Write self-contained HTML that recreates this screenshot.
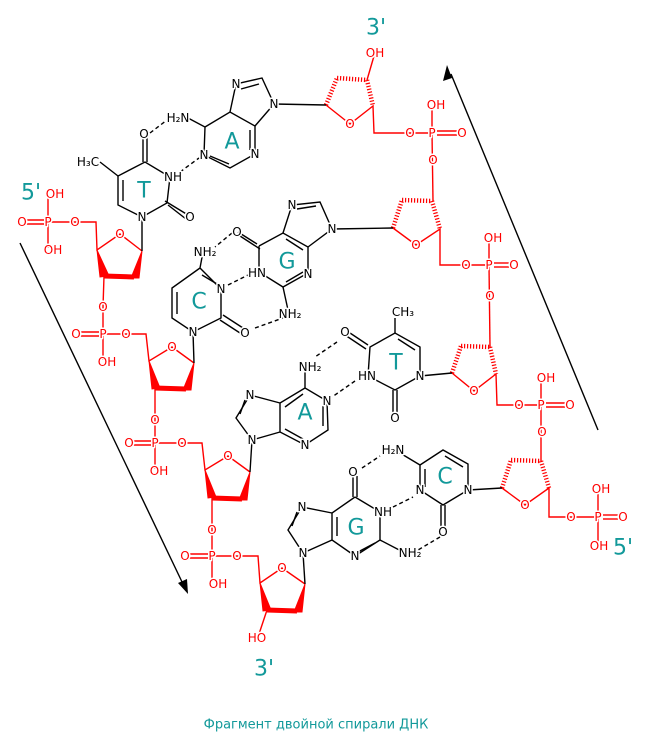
<!DOCTYPE html>
<html><head><meta charset="utf-8"><style>
html,body{margin:0;padding:0;background:#fff}
svg{display:block}
text{font-family:"DejaVu Sans","Liberation Sans",sans-serif;font-size:12px;text-anchor:middle;dominant-baseline:central;paint-order:stroke;stroke:#fff;stroke-width:3px;stroke-linejoin:round}
.k line,.k polyline{stroke:#000;stroke-width:1.4;fill:none}
.k text{fill:#000}
.r line,.r polyline{stroke:#f00;stroke-width:1.4;fill:none}
.r polygon{fill:#f00;stroke:#f00;stroke-width:1}
.r text{fill:#f00}
.h{stroke-dasharray:4 3}
.hs{stroke-width:4.5!important;stroke-dasharray:1.2 1.8}
.t{fill:#12999a!important;stroke:none!important;font-size:22px}
</style></head><body>
<svg width="645" height="748" viewBox="0 0 645 748" xmlns="http://www.w3.org/2000/svg">
<!-- arrows -->
<g stroke="#000" stroke-width="1.4">
<line x1="20" y1="243" x2="183" y2="584"/>
<line x1="598" y1="430" x2="451" y2="74"/>
</g>
<polygon points="188,594 178,583 187,579" fill="#000"/>
<polygon points="447,65 452,78 443,81" fill="#000"/>

<!-- LEFT STRAND -->
<g class="r">
<polyline points="48,222 75,222 96,222 97,250 120,234 142,251"/>
<line x1="48" y1="222" x2="48" y2="196"/><line x1="48" y1="222" x2="48" y2="248"/>
<line x1="26" y1="220" x2="44" y2="220"/><line x1="26" y1="224" x2="44" y2="224"/>
<polygon points="142,251 131,278 139,278"/>
<line x1="134" y1="277" x2="104" y2="276" style="stroke-width:5"/>
<polygon points="97,250 100,277 109,276"/>
<polyline points="104,276 103,307 103,334 126,334 146,334 149,361 172,347 194,363"/>
<line x1="103" y1="334" x2="103" y2="360"/>
<line x1="80" y1="332" x2="99" y2="332"/><line x1="80" y1="336" x2="99" y2="336"/>
<polygon points="194,363 183,390 191,390"/>
<line x1="186" y1="389" x2="155" y2="388" style="stroke-width:5"/>
<polygon points="149,361 152,389 160,388"/>
<polyline points="155,388 155,420 155,443 182,443 202,443 205,470 228,456 250,472"/>
<line x1="155" y1="443" x2="155" y2="469"/>
<line x1="133" y1="441" x2="151" y2="441"/><line x1="133" y1="445" x2="151" y2="445"/>
<polygon points="250,472 239,500 247,500"/>
<line x1="242" y1="499" x2="212" y2="498" style="stroke-width:5"/>
<polygon points="205,470 208,498 216,497"/>
<polyline points="212,498 212,530 212,556 237,556 258,556 260,583 282,568 305,584"/>
<line x1="212" y1="556" x2="212" y2="582"/>
<line x1="189" y1="554" x2="208" y2="554"/><line x1="189" y1="558" x2="208" y2="558"/>
<polygon points="305,584 294,612 302,612"/>
<line x1="297" y1="611" x2="267" y2="610" style="stroke-width:5"/>
<polygon points="260,583 263,611 271,610"/>
<line x1="267" y1="610" x2="259" y2="634"/>
<text x="55" y="194">OH</text><text x="48" y="222">P</text><text x="22" y="222">O</text><text x="75" y="222">O</text><text x="53" y="250">OH</text>
<text x="120" y="234">O</text><text x="103" y="307">O</text>
<text x="103" y="334">P</text><text x="76" y="334">O</text><text x="126" y="334">O</text><text x="107" y="362">OH</text>
<text x="172" y="347">O</text><text x="155" y="420">O</text>
<text x="155" y="443">P</text><text x="129" y="443">O</text><text x="182" y="443">O</text><text x="159" y="471">OH</text>
<text x="228" y="456">O</text><text x="212" y="530">O</text>
<text x="212" y="556">P</text><text x="185" y="556">O</text><text x="237" y="556">O</text><text x="218" y="584">OH</text>
<text x="282" y="568">O</text><text x="257" y="638">HO</text>
</g>

<!-- RIGHT STRAND -->
<g class="r">
<polyline points="326,105 350,124 373,106 374,133 410,133 432,133"/>
<line class="hs" x1="326" y1="105" x2="337" y2="78"/><line class="hs" x1="337" y1="78" x2="367" y2="80"/><line class="hs" x1="367" y1="80" x2="373" y2="106"/>
<line x1="367" y1="80" x2="374" y2="56"/>
<line x1="432" y1="133" x2="432" y2="108"/><line x1="432" y1="133" x2="433" y2="201"/>
<line x1="437" y1="131" x2="457" y2="131"/><line x1="437" y1="135" x2="457" y2="135"/>
<polyline points="393,228 416,245 440,229 440,265 466,265 489,265"/>
<line class="hs" x1="393" y1="228" x2="402" y2="200"/><line class="hs" x1="402" y1="200" x2="432" y2="201"/><line class="hs" x1="432" y1="201" x2="440" y2="229"/>
<line x1="489" y1="265" x2="489" y2="241"/><line x1="489" y1="265" x2="490" y2="347"/>
<line x1="494" y1="263" x2="509" y2="263"/><line x1="494" y1="267" x2="509" y2="267"/>
<polyline points="452,373 474,391 496,374 497,405 519,405 541,405"/>
<line class="hs" x1="452" y1="373" x2="461" y2="346"/><line class="hs" x1="461" y1="346" x2="490" y2="347"/><line class="hs" x1="490" y1="347" x2="496" y2="374"/>
<line x1="541" y1="405" x2="541" y2="381"/><line x1="541" y1="405" x2="541" y2="461"/>
<line x1="546" y1="403" x2="565" y2="403"/><line x1="546" y1="407" x2="565" y2="407"/>
<polyline points="502,488 525,505 549,488 549,517 571,517 598,517"/>
<line class="hs" x1="502" y1="488" x2="511" y2="460"/><line class="hs" x1="511" y1="460" x2="541" y2="461"/><line class="hs" x1="541" y1="461" x2="549" y2="488"/>
<line x1="598" y1="517" x2="598" y2="492"/><line x1="598" y1="517" x2="598" y2="543"/>
<line x1="603" y1="515" x2="618" y2="515"/><line x1="603" y1="519" x2="618" y2="519"/>
<text x="375" y="53">OH</text><text x="350" y="124">O</text><text x="410" y="133">O</text><text x="432" y="133">P</text><text x="462" y="133">O</text><text x="436" y="105">OH</text><text x="433" y="160">O</text>
<text x="416" y="245">O</text><text x="466" y="265">O</text><text x="489" y="265">P</text><text x="514" y="265">O</text><text x="493" y="238">OH</text><text x="490" y="296">O</text>
<text x="474" y="391">O</text><text x="519" y="405">O</text><text x="541" y="405">P</text><text x="570" y="405">O</text><text x="546" y="378">OH</text><text x="542" y="432">O</text>
<text x="525" y="505">O</text><text x="571" y="517">O</text><text x="598" y="517">P</text><text x="623" y="517">O</text><text x="601" y="489">OH</text><text x="599" y="546">OH</text>
</g>

<!-- BASES -->
<g class="k">
<!-- T top -->
<polyline points="142,251 142,217 167,203 170,177 145,162 118,176 118,205 142,217"/>
<line x1="123" y1="180" x2="123" y2="201"/>
<line x1="165" y1="201" x2="188" y2="215"/><line x1="168" y1="205" x2="186" y2="219"/>
<line x1="143" y1="162" x2="143" y2="137"/><line x1="147" y1="162" x2="147" y2="137"/>
<line x1="118" y1="176" x2="100" y2="162"/>
<line class="h" x1="150" y1="133" x2="167" y2="120"/><line class="h" x1="180" y1="172" x2="199" y2="158"/>
<text x="88" y="162">H₃C</text><text x="144" y="134">O</text><text x="173" y="177">NH</text><text x="142" y="217">N</text><text x="190" y="217">O</text>
<!-- A top -->
<polyline points="188,118 205,127 204,155 230,168 255,154 255,126 230,112 205,127"/>
<polyline points="230,112 236,84 262,78 274,104 255,126"/>
<line x1="274" y1="104" x2="326" y2="105"/>
<line x1="210" y1="156" x2="229" y2="164"/><line x1="250" y1="130" x2="250" y2="150"/><line x1="241" y1="89" x2="259" y2="84"/>
<text x="178" y="118">H₂N</text><text x="204" y="155">N</text><text x="255" y="154">N</text><text x="236" y="84">N</text><text x="274" y="104">N</text>
<!-- G top -->
<polyline points="259,246 259,272 283,287 308,273 308,247 283,233 259,246"/>
<polyline points="283,233 292,205 320,202 332,229 308,247"/>
<line x1="332" y1="229" x2="393" y2="228"/>
<line x1="257" y1="244" x2="238" y2="232"/><line x1="260" y1="249" x2="240" y2="236"/>
<line x1="283" y1="287" x2="288" y2="310"/>
<line x1="286" y1="282" x2="303" y2="272"/><line x1="303" y1="250" x2="286" y2="239"/><line x1="297" y1="209" x2="316" y2="206"/>
<line class="h" x1="232" y1="233" x2="215" y2="247"/><line class="h" x1="228" y1="285" x2="248" y2="275"/><line class="h" x1="255" y1="328" x2="283" y2="318"/>
<text x="237" y="232">O</text><text x="257" y="273">HN</text><text x="308" y="274">N</text><text x="292" y="205">N</text><text x="332" y="229">N</text><text x="290" y="314">NH₂</text>
<!-- C top -->
<polyline points="203,252 200,268 221,289 221,318 193,332 172,318 172,288 200,268"/>
<line x1="193" y1="332" x2="194" y2="363"/>
<line x1="202" y1="275" x2="217" y2="284"/><line x1="177" y1="292" x2="177" y2="314"/>
<line x1="223" y1="315" x2="243" y2="328"/><line x1="220" y1="320" x2="240" y2="333"/>
<text x="205" y="252">NH₂</text><text x="221" y="289">N</text><text x="193" y="332">N</text><text x="245" y="333">O</text>
<!-- A middle -->
<polyline points="305,368 305,388 327,401 328,430 305,445 280,432 280,403 305,388"/>
<polyline points="280,403 250,395 236,418 252,440 280,432"/>
<line x1="252" y1="440" x2="250" y2="472"/>
<line x1="323" y1="406" x2="323" y2="426"/><line x1="285" y1="429" x2="303" y2="439"/><line x1="285" y1="407" x2="303" y2="394"/><line x1="245" y1="400" x2="240" y2="414"/>
<line class="h" x1="337" y1="342" x2="315" y2="357"/><line class="h" x1="355" y1="381" x2="332" y2="397"/>
<text x="310" y="367">NH₂</text><text x="327" y="401">N</text><text x="305" y="445">N</text><text x="250" y="395">N</text><text x="252" y="440">N</text>
<!-- T middle -->
<polyline points="420,376 395,390 368,376 370,347 395,333 420,347 420,376"/>
<line x1="420" y1="376" x2="452" y2="373"/>
<line x1="398" y1="339" x2="415" y2="350"/>
<line x1="368" y1="345" x2="347" y2="331"/><line x1="366" y1="349" x2="345" y2="335"/>
<line x1="395" y1="333" x2="395" y2="318"/>
<line x1="393" y1="390" x2="393" y2="414"/><line x1="397" y1="390" x2="397" y2="414"/>
<text x="345" y="332">O</text><text x="403" y="312">CH₃</text><text x="367" y="376">HN</text><text x="420" y="376">N</text><text x="395" y="418">O</text>
<!-- G lower -->
<polyline points="355,497 380,512 380,540 355,556 332,540 332,513 355,497"/>
<polyline points="332,513 302,507 288,530 303,553 332,540"/>
<line x1="303" y1="553" x2="305" y2="584"/>
<line x1="353" y1="497" x2="353" y2="476"/><line x1="357" y1="497" x2="357" y2="476"/>
<line x1="380" y1="540" x2="405" y2="553"/>
<line x1="337" y1="517" x2="337" y2="536"/><line x1="375" y1="543" x2="358" y2="552"/><line x1="297" y1="512" x2="292" y2="526"/>
<line class="h" x1="362" y1="468" x2="380" y2="456"/><line class="h" x1="393" y1="507" x2="413" y2="497"/><line class="h" x1="440" y1="537" x2="418" y2="550"/>
<text x="353" y="472">O</text><text x="383" y="512">NH</text><text x="355" y="556">N</text><text x="302" y="507">N</text><text x="303" y="553">N</text><text x="410" y="553">NH₂</text>
<!-- C lower -->
<polyline points="395,450 420,465 443,450 468,464 468,490 443,505 420,490 420,465"/>
<line x1="468" y1="490" x2="502" y2="488"/>
<line x1="445" y1="456" x2="463" y2="467"/><line x1="425" y1="469" x2="425" y2="487"/>
<line x1="441" y1="505" x2="441" y2="528"/><line x1="445" y1="505" x2="445" y2="528"/>
<text x="393" y="450">H₂N</text><text x="420" y="490">N</text><text x="468" y="490">N</text><text x="443" y="532">O</text>
</g>

<!-- Base letters -->
<g>
<text class="t" x="232" y="142">A</text>
<text class="t" x="144" y="191">T</text>
<text class="t" x="287" y="262">G</text>
<text class="t" x="199" y="302">C</text>
<text class="t" x="396" y="363">T</text>
<text class="t" x="305" y="413">A</text>
<text class="t" x="445" y="477">C</text>
<text class="t" x="356" y="528">G</text>
<text class="t" x="376" y="28">3'</text>
<text class="t" x="31" y="193">5'</text>
<text class="t" x="623" y="548">5'</text>
<text class="t" x="264" y="669">3'</text>
<text class="t" x="316" y="725" style="font-size:13px">Фрагмент двойной спирали ДНК</text>
</g>
</svg>
</body></html>
